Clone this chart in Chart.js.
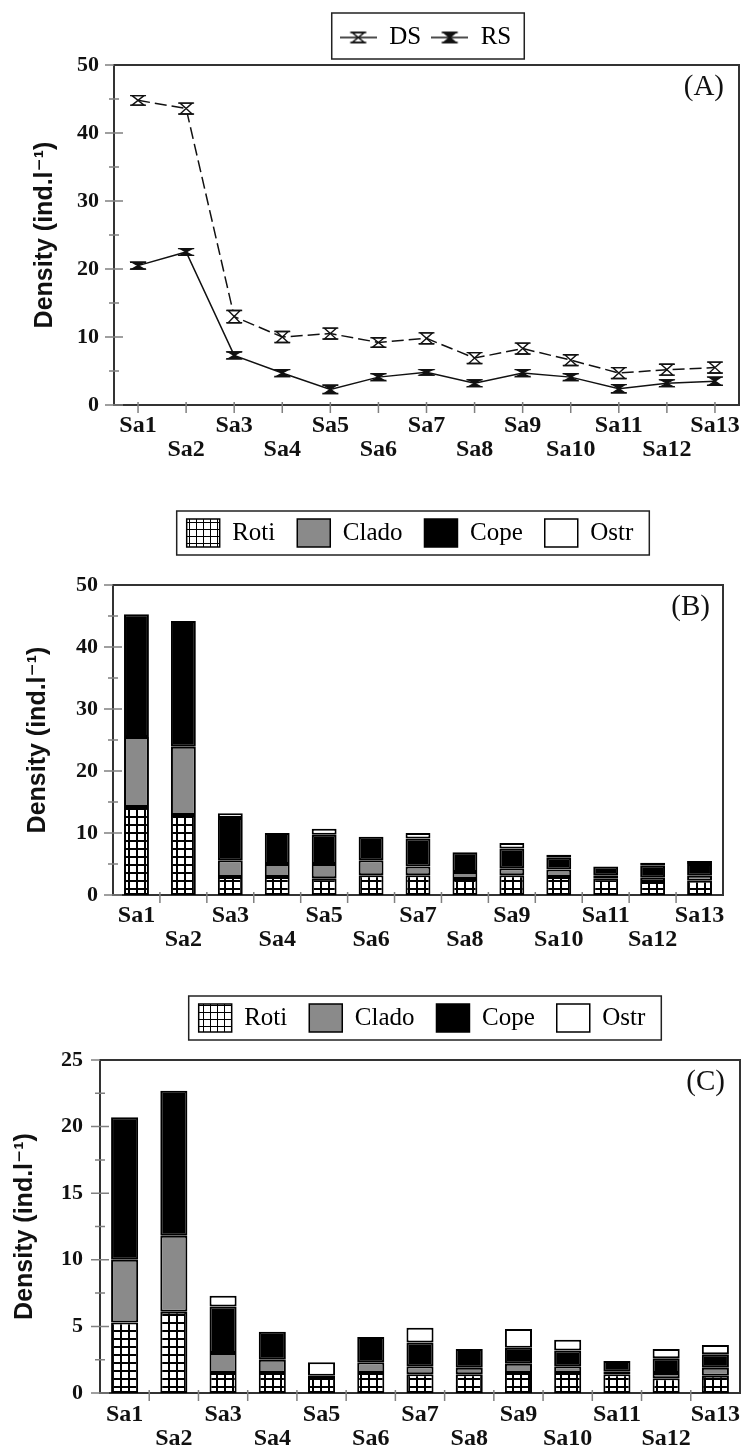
<!DOCTYPE html>
<html>
<head>
<meta charset="utf-8">
<script src="https://cdn.jsdelivr.net/npm/chart.js@4.4.1/dist/chart.umd.min.js"></script>
<style>
  html, body { margin: 0; padding: 0; background: #fff; }
  body { width: 741px; height: 1452px; position: relative; overflow: hidden; }
  .panel { position: absolute; left: 0; width: 741px; }
  .panel canvas { display: block; }
</style>
</head>
<body>
<div class="panel" style="top:0;height:480px"><canvas id="chartA" width="741" height="480"></canvas></div>
<div class="panel" style="top:480px;height:490px"><canvas id="chartB" width="741" height="490"></canvas></div>
<div class="panel" style="top:970px;height:482px"><canvas id="chartC" width="741" height="482"></canvas></div>
<script>
// Sampling sites (x axis)
const sites = ['Sa1', 'Sa2', 'Sa3', 'Sa4', 'Sa5', 'Sa6', 'Sa7', 'Sa8', 'Sa9', 'Sa10', 'Sa11', 'Sa12', 'Sa13'];

// (A) total density, dry season (DS) and rainy season (RS), with error
const dsDensity = [44.8, 43.6, 13.0, 10.0, 10.5, 9.2, 9.8, 6.9, 8.3, 6.6, 4.7, 5.2, 5.5];
const dsError   = [0.7, 0.8, 0.9, 0.8, 0.8, 0.7, 0.8, 0.8, 0.8, 0.8, 0.8, 0.8, 0.8];
const rsDensity = [20.5, 22.5, 7.3, 4.7, 2.3, 4.1, 4.8, 3.2, 4.7, 4.1, 2.4, 3.2, 3.5];
const rsError   = [0.5, 0.5, 0.5, 0.5, 0.6, 0.5, 0.4, 0.5, 0.5, 0.5, 0.6, 0.5, 0.6];

// (B) composition, dry season
const dsRoti  = [14.2, 12.9, 2.9, 2.9, 2.7, 3.2, 3.2, 2.6, 3.2, 2.9, 2.7, 2.1, 2.3];
const dsClado = [11.3, 11.0, 2.7, 2.1, 2.3, 2.4, 1.4, 1.1, 1.1, 1.2, 0.5, 0.7, 0.8];
const dsCope  = [19.8, 20.3, 6.8, 5.0, 4.7, 3.8, 4.5, 3.2, 3.2, 1.9, 1.4, 1.9, 1.9];
const dsOstr  = [0, 0, 0.8, 0, 1.0, 0, 0.9, 0, 0.9, 0.5, 0, 0.5, 0.5];

// (C) composition, rainy season
const rsRoti  = [5.3, 6.1, 1.5, 1.5, 1.2, 1.5, 1.4, 1.4, 1.5, 1.5, 1.4, 1.1, 1.3];
const rsClado = [4.7, 5.7, 1.5, 1.0, 0, 0.8, 0.6, 0.5, 0.7, 0.5, 0.2, 0.4, 0.6];
const rsCope  = [10.7, 10.9, 3.5, 2.1, 0.1, 1.9, 1.8, 1.4, 1.2, 1.2, 0.8, 1.1, 1.0];
const rsOstr  = [0, 0, 0.8, 0, 1.0, 0, 1.1, 0, 1.4, 0.8, 0, 0.7, 0.7];

// Axis ticks
const yTicks50 = [0, 10, 20, 30, 40, 50];
const yMinor50 = [5, 15, 25, 35, 45];
const yTicks25 = [0, 5, 10, 15, 20, 25];
const yMinor25 = [2.5, 7.5, 12.5, 17.5, 22.5];

const SERIF = "'Liberation Serif', 'Times New Roman', serif";
const SANS = "'Liberation Sans', 'DejaVu Sans', Arial, sans-serif";
const INK = '#111';

Chart.defaults.font.family = SERIF;
Chart.defaults.color = INK;

function hourglass(ctx, x, yTop, yMid, yBot, half, hollow) {
    ctx.beginPath();
    ctx.moveTo(x - half, yTop);
    ctx.lineTo(x + half, yTop);
    ctx.lineTo(x, yMid);
    ctx.closePath();
    ctx.moveTo(x - half, yBot);
    ctx.lineTo(x + half, yBot);
    ctx.lineTo(x, yMid);
    ctx.closePath();
    ctx.fillStyle = hollow ? '#fff' : INK;
    ctx.fill();
    ctx.stroke();
    // caps
    ctx.beginPath();
    ctx.moveTo(x - half - 2, yTop);
    ctx.lineTo(x + half + 2, yTop);
    ctx.moveTo(x - half - 2, yBot);
    ctx.lineTo(x + half + 2, yBot);
    ctx.stroke();
}

// Legend sample: short line with the marker in the middle
function legendSample(hollow) {
    const c = document.createElement('canvas');
    c.width = 37;
    c.height = 16;
    const g = c.getContext('2d');
    g.strokeStyle = INK;
    g.lineWidth = 1.5;
    g.beginPath();
    g.moveTo(0, 8);
    g.lineTo(37, 8);
    g.stroke();
    hourglass(g, 18.5, 3, 8, 13, 6, hollow);
    return c;
}

function makePatterns(canvasId) {
    const ctx = document.getElementById(canvasId).getContext('2d');
    const tile = document.createElement('canvas');
    tile.width = 8;
    tile.height = 8;
    const t = tile.getContext('2d');
    t.fillStyle = '#000';
    t.fillRect(0, 0, 8, 8);
    t.fillStyle = '#fff';
    t.fillRect(2, 2, 6, 6);

    const ltile = document.createElement('canvas');
    ltile.width = 7;
    ltile.height = 7;
    const l = ltile.getContext('2d');
    l.fillStyle = '#fff';
    l.fillRect(0, 0, 7, 7);
    l.fillStyle = '#000';
    l.fillRect(0, 0, 7, 1);
    l.fillRect(0, 0, 1, 7);

    return {
        bar: ctx.createPattern(tile, 'repeat'),
        legend: ctx.createPattern(ltile, 'repeat')
    };
}

// Draws tick marks crossing the axes, the top/right frame, panel letter and legend border
const panelDecor = {
    id: 'panelDecor',
    afterLayout(chart, args, opts) {
        const lg = chart.legend;
        if (lg && opts.legendShift) {
            lg.top += opts.legendShift.dy;
            lg.bottom += opts.legendShift.dy;
            lg.left += opts.legendShift.dx;
            lg.right += opts.legendShift.dx;
        }
    },
    afterDatasetsDraw(chart) {
        const ctx = chart.ctx;
        chart.data.datasets.forEach((ds, i) => {
            if (!ds.errorBars) return;
            const meta = chart.getDatasetMeta(i);
            const y = chart.scales.y;
            ctx.save();
            ctx.strokeStyle = INK;
            ctx.lineWidth = 1.4;
            meta.data.forEach((pt, j) => {
                const v = ds.data[j];
                const e = ds.errorBars[j];
                hourglass(ctx, pt.x, y.getPixelForValue(v + e), pt.y, y.getPixelForValue(v - e), 6, ds.hollow);
            });
            ctx.restore();
        });
    },
    afterDraw(chart, args, opts) {
        const {ctx, chartArea: a, scales: {x, y}} = chart;
        ctx.save();

        // tick marks
        ctx.strokeStyle = '#808080';
        ctx.lineWidth = 1.5;
        ctx.beginPath();
        y.ticks.forEach(t => {
            const py = y.getPixelForValue(t.value);
            ctx.moveTo(a.left - 9, py);
            ctx.lineTo(a.left + 9, py);
        });
        (opts.yMinor || []).forEach(v => {
            const py = y.getPixelForValue(v);
            ctx.moveTo(a.left - 5, py);
            ctx.lineTo(a.left + 5, py);
        });
        const n = x.ticks.length;
        for (let i = 0; i < n; i++) {
            let px;
            if (opts.xMarks === 'between') {
                if (i === n - 1) break;
                px = (x.getPixelForTick(i) + x.getPixelForTick(i + 1)) / 2;
            } else {
                px = x.getPixelForTick(i);
            }
            ctx.moveTo(px, a.bottom - 3);
            ctx.lineTo(px, a.bottom + 8);
        }
        ctx.stroke();

        // top and right frame
        ctx.strokeStyle = '#333';
        ctx.lineWidth = 2;
        ctx.beginPath();
        ctx.moveTo(a.left, a.top);
        ctx.lineTo(a.right, a.top);
        ctx.lineTo(a.right, a.bottom);
        ctx.stroke();

        // panel letter
        if (opts.letter) {
            ctx.fillStyle = INK;
            ctx.font = '29px ' + SERIF;
            ctx.textAlign = 'right';
            ctx.textBaseline = 'middle';
            ctx.fillText(opts.letter, a.right - opts.letterDx, a.top + opts.letterDy);
        }

        // border round the legend
        const lg = chart.legend;
        if (lg && lg.lineWidths) {
            const lo = lg.options.labels;
            const p = lo.padding;
            const fs = lo.font.size;
            const bh = lo.usePointStyle ? Math.min(lo.boxHeight, fs) : lo.boxHeight;
            const ih = Math.max(fs, bh);
            const lw = lg.lineWidths[0];
            const x0 = (lg.left + p + lg.right - lw) / 2;
            const x1 = x0 + lw - p;
            const y0 = lg.top + p;
            const m = opts.legendMargin;
            ctx.strokeStyle = '#222';
            ctx.lineWidth = 1.5;
            ctx.strokeRect(x0 - m.l, y0 - m.t, x1 - x0 + m.l + m.r, ih + m.t + m.b);
        }
        ctx.restore();
    }
};

function xAxis(height, padding) {
    return {
        type: 'category',
        offset: true,
        grid: { display: false, drawTicks: false },
        border: { display: true, color: '#333', width: 2 },
        ticks: {
            autoSkip: false,
            maxRotation: 0,
            minRotation: 0,
            padding: padding,
            color: INK,
            font: { family: SERIF, size: 24, weight: 'bold', lineHeight: 1 },
            callback: (v, i) => i % 2 === 0 ? sites[i] : ['', sites[i]]
        },
        afterFit: s => {
            s.height = height;
            s.paddingLeft = 0;
            s.paddingRight = 0;
        }
    };
}

function yAxis(max, ticks, width, labelPad, titlePad) {
    return {
        min: 0,
        max: max,
        grid: { display: false, drawTicks: false },
        border: { display: true, color: '#333', width: 2 },
        afterBuildTicks: s => { s.ticks = ticks.map(v => ({ value: v })); },
        ticks: {
            padding: labelPad,
            color: INK,
            font: { family: SERIF, size: 22, weight: 'bold' }
        },
        title: {
            display: true,
            text: 'Density (ind.l\u207B\u00B9)',
            color: INK,
            padding: { top: titlePad, bottom: 0 },
            font: { family: SANS, size: 25, weight: 'bold' }
        },
        afterFit: s => {
            s.width = width;
            s.paddingTop = 0;
            s.paddingBottom = 0;
        }
    };
}

// ---------- (A) ----------
const sampleDS = legendSample(true);
const sampleRS = legendSample(false);

new Chart(document.getElementById('chartA'), {
    type: 'line',
    data: {
        labels: sites,
        datasets: [
            {
                label: 'DS',
                data: dsDensity,
                errorBars: dsError,
                hollow: true,
                borderColor: INK,
                borderWidth: 1.5,
                borderDash: [12, 5],
                pointRadius: 0,
                tension: 0,
                fill: false
            },
            {
                label: 'RS',
                data: rsDensity,
                errorBars: rsError,
                hollow: false,
                borderColor: INK,
                borderWidth: 1.5,
                pointRadius: 0,
                tension: 0,
                fill: false
            }
        ]
    },
    options: {
        responsive: false,
        animation: false,
        devicePixelRatio: 1,
        events: [],
        layout: { padding: { top: 20, left: 0, right: 2, bottom: 0 } },
        scales: {
            x: xAxis(75, 9),
            y: yAxis(50, yTicks50, 114, 15, 30)
        },
        plugins: {
            legend: {
                position: 'top',
                fullSize: false,
                labels: {
                    usePointStyle: true,
                    pointStyleWidth: 37,
                    boxHeight: 16,
                    padding: 10,
                    color: INK,
                    font: { family: SERIF, size: 25 },
                    generateLabels: () => [
                        { text: 'DS', pointStyle: sampleDS, hidden: false, datasetIndex: 0, lineWidth: 0 },
                        { text: 'RS', pointStyle: sampleRS, hidden: false, datasetIndex: 1, lineWidth: 0 }
                    ]
                }
            },
            tooltip: { enabled: false },
            panelDecor: {
                yMinor: yMinor50,
                xMarks: 'center',
                letter: '(A)',
                letterDx: 15,
                letterDy: 22,
                legendShift: { dx: -1, dy: -5 },
                legendMargin: { l: 8, r: 13, t: 12, b: 9 }
            }
        }
    },
    plugins: [panelDecor]
});

// ---------- (B) and (C) ----------
function stackedChart(canvasId, roti, clado, cope, ostr, cfg) {
    const pat = makePatterns(canvasId);
    const base = { borderColor: '#000', borderWidth: 2, borderSkipped: false, barPercentage: cfg.barPct, categoryPercentage: 1 };
    const datasets = [
        Object.assign({ label: 'Roti', data: roti, backgroundColor: pat.bar, legendFill: pat.legend }, base),
        Object.assign({ label: 'Clado', data: clado, backgroundColor: '#8a8a8a' }, base),
        Object.assign({ label: 'Cope', data: cope, backgroundColor: '#000' }, base),
        Object.assign({ label: 'Ostr', data: ostr, backgroundColor: '#fff' }, base)
    ];

    return new Chart(document.getElementById(canvasId), {
        type: 'bar',
        data: { labels: sites, datasets: datasets },
        options: {
            responsive: false,
            animation: false,
            devicePixelRatio: 1,
            events: [],
            layout: { padding: { top: cfg.padTop, left: 0, right: cfg.padRight, bottom: 0 } },
            scales: {
                x: Object.assign(xAxis(cfg.xHeight, cfg.xPad), { stacked: true }),
                y: Object.assign(yAxis(cfg.yMax, cfg.yTicks, cfg.yWidth, cfg.yPad, cfg.titlePad), { stacked: true })
            },
            plugins: {
                legend: {
                    position: 'top',
                    fullSize: false,
                    labels: {
                        boxWidth: 33,
                        boxHeight: 28,
                        padding: 22,
                        color: INK,
                        font: { family: SERIF, size: 25 },
                        generateLabels: chart => chart.data.datasets.map((ds, i) => ({
                            text: ds.label,
                            fillStyle: ds.legendFill || ds.backgroundColor,
                            strokeStyle: '#000',
                            lineWidth: 1.5,
                            hidden: false,
                            datasetIndex: i
                        }))
                    }
                },
                tooltip: { enabled: false },
                panelDecor: {
                    yMinor: cfg.yMinor,
                    xMarks: 'between',
                    letter: cfg.letter,
                    letterDx: cfg.letterDx,
                    letterDy: 22,
                    legendShift: cfg.legendShift,
                    legendMargin: { l: 10, r: 16, t: 8, b: 8 }
                }
            }
        },
        plugins: [panelDecor]
    });
}

stackedChart('chartB', dsRoti, dsClado, dsCope, dsOstr, {
    barPct: 0.53, padTop: 45, padRight: 18, xHeight: 75, xPad: 9,
    yMax: 50, yTicks: yTicks50, yMinor: yMinor50, yWidth: 113, yPad: 15, titlePad: 23,
    letter: '(B)', letterDx: 13, legendShift: { dx: -8, dy: -28 }
});

stackedChart('chartC', rsRoti, rsClado, rsCope, rsOstr, {
    barPct: 0.55, padTop: 30, padRight: 1, xHeight: 59, xPad: 10,
    yMax: 25, yTicks: yTicks25, yMinor: yMinor25, yWidth: 100, yPad: 17, titlePad: 10,
    letter: '(C)', letterDx: 15, legendShift: { dx: 2, dy: -18 }
});
</script>
</body>
</html>
